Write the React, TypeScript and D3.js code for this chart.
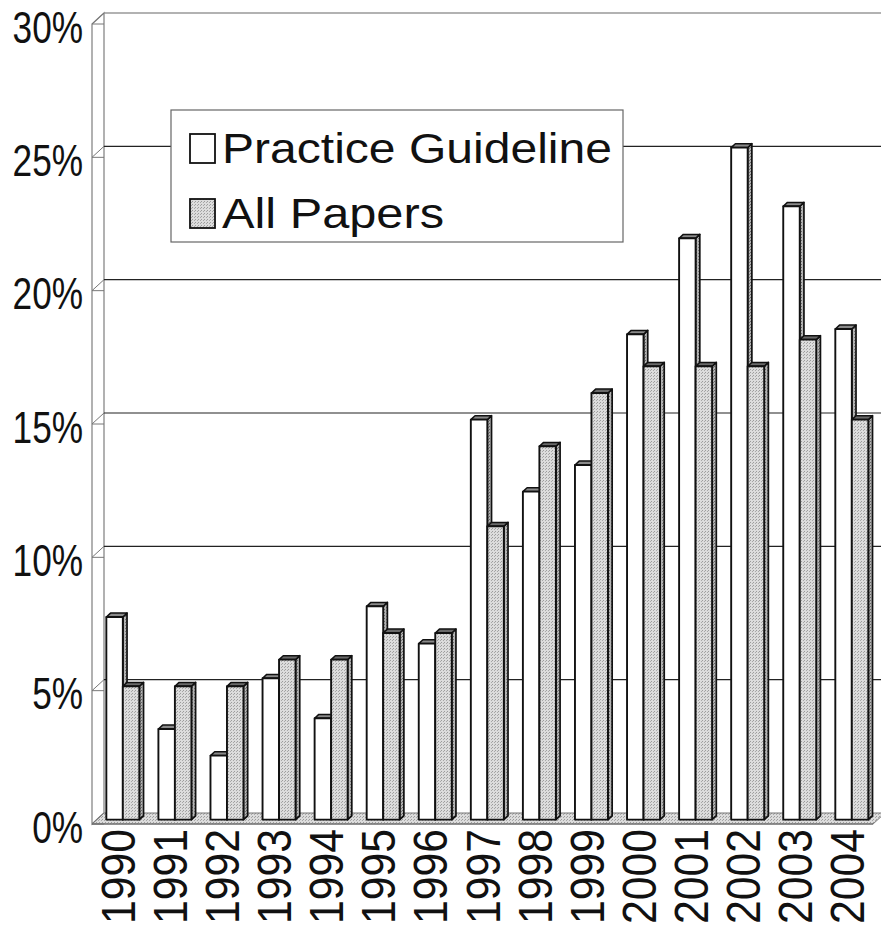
import React from "react";
import * as d3 from "d3";

const years = ["1990","1991","1992","1993","1994","1995","1996","1997","1998","1999","2000","2001","2002","2003","2004"];
const practiceGuideline = [7.6, 3.4, 2.4, 5.3, 3.8, 8.0, 6.6, 15.0, 12.3, 13.3, 18.2, 21.8, 25.2, 23.0, 18.4];
const allPapers = [5, 5, 5, 6, 6, 7, 7, 11, 14, 16, 17, 17, 17, 18, 15];
const seriesNames = ["Practice Guideline", "All Papers"];
const yTicks = [0, 5, 10, 15, 20, 25, 30];

const W = 881, H = 931;
const DX = 12, DY = 11;
const T0 = 0.4, T1 = 0.75;
const FONT = "'Liberation Sans', Arial, sans-serif";

export default function App() {
  const y = d3.scaleLinear().domain([0, 30]).range([824, 24]);
  const x = d3.scaleBand<string>().domain(years).range([92, 92 + 15 * 52.07]);
  const inner = d3.scaleBand<string>().domain(seriesNames).range([0, x.bandwidth()]).paddingOuter(0.578).paddingInner(0);
  const P = (px: number, v: number, t: number) => [px + DX * t, y(v) - DY * t];
  const pts = (arr: number[][]) => arr.map(p => p.join(",")).join(" ");

  const x0 = x.range()[0], x1 = x.range()[1];

  const bars: any[] = [];
  years.forEach((yr, i) => {
    [practiceGuideline[i], allPapers[i]].forEach((v, s) => {
      const bx0 = (x(yr) as number) + (inner(seriesNames[s]) as number);
      const bx1 = bx0 + inner.bandwidth();
      const isPG = s === 0;
      const front = [P(bx0, v, T0), P(bx1, v, T0), P(bx1, 0, T0), P(bx0, 0, T0)];
      const side = [P(bx1, v, T0), P(bx1, v, T1), P(bx1, 0, T1), P(bx1, 0, T0)];
      const top = [P(bx0, v, T0), P(bx1, v, T0), P(bx1, v, T1), P(bx0, v, T1)];
      bars.push(
        <g key={yr + s}>
          <polygon points={pts(side)} fill="url(#stipDark)" stroke="#111" strokeWidth={1.7} strokeLinejoin="round" />
          <polygon points={pts(top)} fill={isPG ? "#8a8a8a" : "#6a6a6a"} stroke="#111" strokeWidth={1.5} strokeLinejoin="round" />
          <polygon points={pts(front)} fill={isPG ? "#ffffff" : "url(#stip)"} stroke="#111" strokeWidth={1.9} strokeLinejoin="round" />
        </g>
      );
    });
  });

  return (
    <svg width={W} height={H} style={{ position: "absolute", left: 0, top: 0, background: "#fff" }} fontFamily={FONT}>
      <defs>
        <pattern id="stip" width={3} height={3} patternUnits="userSpaceOnUse">
          <rect width={3} height={3} fill="#dcdcdc" />
          <rect x={0} y={0} width={1} height={1} fill="#9c9c9c" />
          <rect x={2} y={1} width={1} height={1} fill="#a8a8a8" />
        </pattern>
        <pattern id="stipDark" width={3} height={3} patternUnits="userSpaceOnUse">
          <rect width={3} height={3} fill="#b4b4b4" />
          <rect x={0} y={0} width={1} height={1} fill="#6a6a6a" />
          <rect x={2} y={1} width={1} height={1} fill="#787878" />
        </pattern>
      </defs>

      {/* back wall top border */}
      <line x1={x0 + DX} x2={W + 20} y1={y(30) - DY} y2={y(30) - DY} stroke="#666" strokeWidth={1.2} />
      {/* left wall */}
      <polygon points={pts([P(x0, 30, 0), P(x0, 30, 1), P(x0, 0, 1), P(x0, 0, 0)])} fill="#fff" stroke="#888" strokeWidth={1.3} />
      {/* floor */}
      <polygon points={pts([P(x0, 0, 0), P(x1, 0, 0), P(x1, 0, 1), P(x0, 0, 1)])} fill="url(#stip)" stroke="#777" strokeWidth={1} />

      {/* gridlines and wall ticks */}
      {yTicks.map(t => (
        <g key={t}>
          {t > 0 && t < 30 && (
            <line x1={x0 + DX} x2={W + 20} y1={y(t) - DY} y2={y(t) - DY} stroke="#222" strokeWidth={1.2} />
          )}
          <line x1={x0} x2={x0 + DX} y1={y(t)} y2={y(t) - DY} stroke="#777" strokeWidth={1} />
          <line x1={x0} x2={x0 + DX} y1={y(t)} y2={y(t)} stroke="#777" strokeWidth={1} />
        </g>
      ))}

      {/* bars */}
      {bars}

      {/* floor front edge */}
      <line x1={x0} x2={x1} y1={y(0)} y2={y(0)} stroke="#666" strokeWidth={1} />

      {/* y labels */}
      {yTicks.map(t => (
        <text key={"yl" + t} transform={`translate(83,${y(t) + 18.7}) scale(0.8,1)`} textAnchor="end" fontSize={44} fill="#111">
          {t + "%"}
        </text>
      ))}

      {/* x labels */}
      {years.map(yr => {
        const cx = (x(yr) as number) + x.bandwidth() / 2;
        return (
          <text key={"xl" + yr} transform={`translate(${cx + 17},829) rotate(-90) scale(0.97,1.08)`} textAnchor="end" fontSize={44} fill="#111">
            {yr}
          </text>
        );
      })}

      {/* legend */}
      <rect x={171} y={110} width={452} height={132} fill="#fff" stroke="#666" strokeWidth={1.2} />
      <rect x={190} y={134} width={25} height={29} fill="#fff" stroke="#111" strokeWidth={1.8} />
      <text x={222} y={163} fontSize={43} textLength={390} lengthAdjust="spacingAndGlyphs" fill="#111">{seriesNames[0]}</text>
      <rect x={190} y={199} width={25} height={29} fill="url(#stip)" stroke="#111" strokeWidth={1.8} />
      <text x={222} y={228} fontSize={43} textLength={222} lengthAdjust="spacingAndGlyphs" fill="#111">{seriesNames[1]}</text>
    </svg>
  );
}
